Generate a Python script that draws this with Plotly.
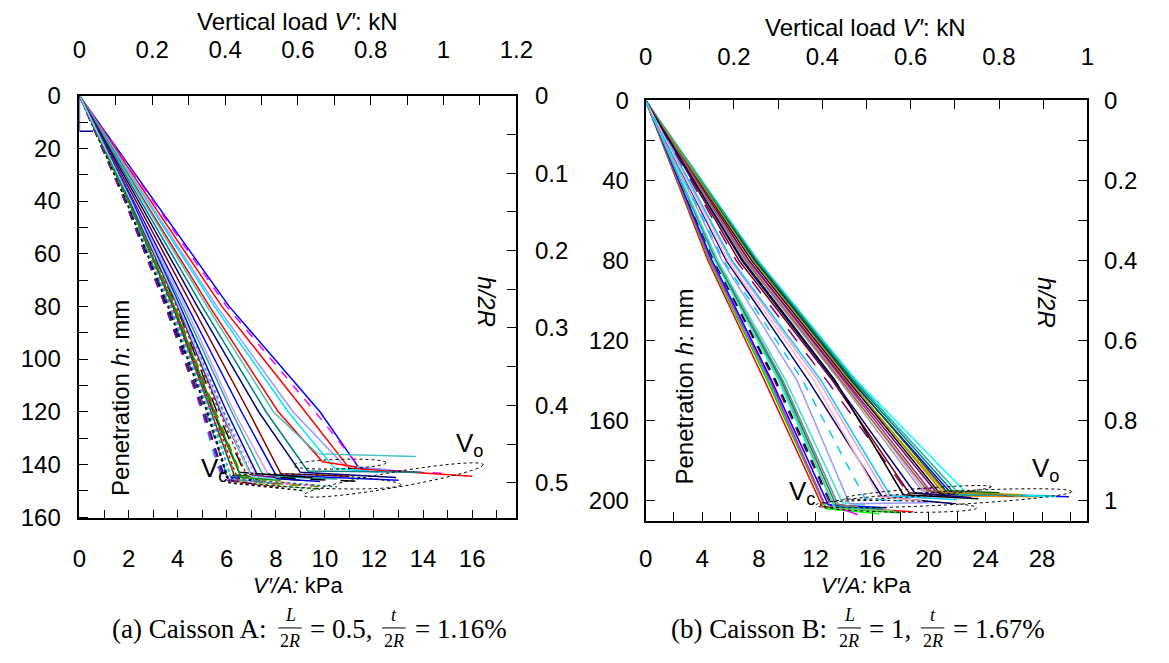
import plotly.graph_objects as go
import math

W, H = 1169, 663

# ---------------- Panel A data (kPa at given penetration mm) ----------------
A_h_levels = [0, 40, 80, 120]
A_x40 = [3.05, 3.0, 2.9, 2.8, 2.75, 2.65, 2.6, 2.5, 2.4, 2.3, 2.2, 2.15, 2.1,
         1.85, 1.9, 1.95, 2.0, 2.0, 2.05, 2.1, 1.95, 1.9, 2.0, 2.1, 1.95, 2.1, 2.15,
         1.85, 2.15, 1.85, 2.0, 1.95, 2.05, 2.0, 2.1, 1.9, 1.85, 2.0, 2.1]
A_x80 = [6.1, 6.0, 5.8, 5.6, 5.5, 5.3, 5.2, 5.0, 4.8, 4.6, 4.4, 4.3, 4.2,
         3.5, 3.6, 3.7, 3.8, 3.85, 3.9, 3.95, 3.75, 3.65, 3.85, 3.95, 3.65, 4.0, 4.1,
         3.55, 4.1, 3.5, 3.9, 3.7, 4.0, 3.8, 4.05, 3.6, 3.5, 3.85, 4.05]
A_x120 = [9.8, 9.6, 9.2, 8.7, 8.5, 8.1, 7.9, 7.6, 7.3, 6.9, 6.6, 6.3, 6.2,
          5.0, 5.1, 5.2, 5.35, 5.45, 5.5, 5.6, 5.35, 5.25, 5.45, 5.7, 5.15, 5.8, 5.9,
          5.05, 6.0, 5.0, 5.55, 5.3, 5.75, 5.45, 5.85, 5.2, 5.05, 5.5, 5.8]
A_xe = [11.4, 11.5, 11.0, 10.8, 10.4, 9.9, 9.7, 9.3, 9.0, 8.2, 8.0, 7.7, 7.5,
        5.6, 5.8, 6.0, 6.3, 6.5, 6.6, 6.8, 6.2, 6.1, 6.4, 6.9, 6.0, 7.0, 7.2,
        5.9, 7.3, 5.8, 6.7, 6.2, 7.0, 6.5, 7.1, 6.1, 5.9, 6.6, 7.0]
A_he = [141.5, 142, 141.5, 140.5, 141.5, 139, 136, 142.5, 143, 143.5, 144, 144, 144.5,
        141, 143, 145, 144, 143, 145, 144.5, 146, 146.5, 146, 146, 144, 145, 145,
        144.5, 145, 145, 146.5, 145.5, 144, 147, 146, 147, 146, 145, 144.5]
A_xt = [13.7, 15.1, 16.0, 12.6, 12.2, 11.3, 13.7, 13.9, 12.9, 11.0, 13.0, 9.5, 10.5,
        6.5, 7.0, 7.5, 9.0, 9.5, 8.5, 11.5, 9.5, 9.8, 8.8, 8.0, 7.5, 9.0, 8.5,
        7.0, 9.8, 6.8, 10.0, 7.8, 8.0, 8.3, 10.5, 9.2, 7.2, 8.2, 8.0]
A_ht = [143, 143.5, 144.5, 142, 143, 141, 137, 143, 145, 144.5, 146, 145, 145.5,
        145, 146, 146, 146, 145, 147, 146.5, 148, 149.5, 148, 147.5, 145.5, 148, 147,
        146, 146.5, 147, 148.5, 147, 145, 149, 148.5, 150, 147.5, 146, 145.5]
A_colors = ['#0000ff', '#ff00ff', '#ff0000', '#9999ff', '#00e5ff', '#ff0000', '#40c0c0', '#008080',
            '#000080', '#800000', '#0000ff', '#cc99ff', '#20a0a0',
            '#00ffff', '#800080', '#0000ff', '#006400', '#000000', '#ffa500', '#000000', '#ff00ff',
            '#009900', '#808080', '#a52a2a', '#008b8b', '#ffcc00', '#ff99cc', '#000080', '#0000cc',
            '#8a2be2', '#808000', '#00bfff', '#800080', '#ff0000', '#008080', '#000000', '#8b008b',
            '#00a000', '#87cefa']
A_dash = ['solid', 'dash', 'solid', 'solid', 'solid', 'solid', 'solid', 'solid',
          'solid', 'solid', 'solid', 'solid', 'solid',
          'dash', 'dash', 'dot', 'solid', 'solid', 'dash', 'longdash', 'dot',
          'dot', 'dash', 'dot', 'dash', 'dot', 'dot', 'dash', 'solid',
          'dash', 'dash', 'dot', 'solid', 'dot', 'dot', 'dot', 'dash',
          'solid', 'solid']
# early stray record near the origin (caisson A)
A_stray_x = [0.0, 0.0, 0.55]
A_stray_h = [0.0, 13.5, 13.5]

# ---------------- Panel B data ----------------
B_h_levels = [0, 40, 80, 140]
B_x40 = [2.2, 2.25, 2.3, 2.3, 2.35, 2.4, 2.4, 2.45, 2.45, 2.5, 2.5, 2.55,
         2.7, 2.85, 3.0, 3.05, 3.2, 3.3, 3.45,
         3.5, 3.6, 3.65, 3.75, 3.75, 3.85, 3.9, 3.9, 4.0, 3.95, 3.65, 3.55, 3.8, 3.4, 2.9, 2.75]
B_x80 = [4.4, 4.5, 4.6, 4.6, 4.7, 4.8, 4.85, 4.9, 4.95, 5.0, 5.05, 5.1,
         5.4, 5.7, 6.0, 6.1, 6.4, 6.6, 6.9,
         7.0, 7.2, 7.3, 7.5, 7.5, 7.7, 7.8, 7.8, 7.95, 7.9, 7.3, 7.1, 7.6, 6.8, 5.8, 5.5]
B_x140 = [8.4, 8.6, 8.7, 8.8, 8.9, 9.1, 9.2, 9.4, 9.5, 9.6, 9.7, 9.9,
          10.7, 11.5, 12.2, 12.4, 12.8, 13.2, 13.4,
          13.7, 13.9, 14.0, 14.2, 14.3, 14.5, 14.7, 14.6, 14.9, 14.8, 14.1, 13.8, 14.4, 13.3, 11.9, 11.1]
B_xe = [12.5, 12.7, 12.8, 12.6, 12.9, 13.0, 13.2, 13.3, 13.4, 13.5, 13.6, 13.9,
        14.4, 16.7, 17.0, 17.3, 18.3, 18.6, 18.2,
        19.5, 19.8, 20.2, 21.4, 20.8, 21.6, 21.9, 21.2, 22.7, 22.2, 20.5, 19.9, 21.0, 19.0, 16.5, 15.5]
B_he = [203, 203.5, 204, 201, 202, 201, 202.5, 203, 204, 203, 202, 201,
        201.5, 198, 197, 197.5, 194, 196, 197,
        195, 196, 196, 197.5, 196.5, 196.5, 197, 195, 196.5, 197, 195.5, 195, 196, 196, 198, 199]
B_xt = [18.9, 18.0, 16.5, 15.0, 17.0, 14.5, 15.0, 16.0, 17.5, 16.8, 15.0, 15.5,
        20.0, 21.8, 20.5, 22.0, 20.2, 22.0, 23.5,
        22.5, 23.0, 24.5, 28.0, 26.0, 29.9, 28.5, 25.0, 29.0, 27.0, 25.5, 24.0, 26.5, 23.0, 19.5, 18.0]
B_ht = [205.5, 206, 206.5, 207, 203.5, 203, 204, 204.5, 205, 204, 203, 202,
        201, 201.5, 199, 199.5, 194, 198, 199,
        197, 198, 197.5, 198, 197.5, 198, 197.5, 196, 198, 197.5, 197, 196.5, 197, 198.5, 200, 200]
B_colors = ['#ff0000', '#00cc00', '#00ff00', '#ff00ff', '#0000ff', '#800080', '#000000', '#00ffff',
            '#66cc66', '#008080', '#808080', '#40e0d0',
            '#9999ff', '#000080', '#ff99cc', '#00ccff', '#800080', '#800000', '#000000',
            '#a0a0a0', '#cc99ff', '#993366', '#ff8000', '#000000', '#0000ff', '#008080', '#006400',
            '#00ffff', '#20b2aa', '#800080', '#996633', '#999900', '#000080', '#ffb6c1', '#00ccff']
B_dash = ['solid', 'solid', 'solid', 'solid', 'solid', 'dash', 'dash', 'solid',
          'solid', 'solid', 'solid', 'solid',
          'solid', 'solid', 'solid', 'solid', 'longdash', 'solid', 'solid',
          'solid', 'solid', 'solid', 'solid', 'solid', 'solid', 'solid', 'solid',
          'solid', 'solid', 'solid', 'solid', 'solid', 'solid', 'solid', 'dash']

# ---------------- geometry (pixels) ----------------
A_box = dict(l=74, r=520, t=85, b=525)
B_box = dict(l=652, r=1103, t=90, b=528)
A_xrange, A_krange, A_hrange, A_nrange = [0, 17.8], [0, 1.2], [160.5, 0], [0.546, 0]
B_xrange, B_krange, B_hrange, B_nrange = [0, 31.2], [0, 1.0], [210.3, 0], [1.0515, 0]

def px(x):
    return x / W

def py(y):
    return 1 - y / H

FONT = 'Liberation Sans, Arial, sans-serif'
SERIF = 'Liberation Serif, Times New Roman, serif'
TFS = 24

fig = go.Figure()

def add_lines(xa, ya, levels, x1, x2, x3, xe, he, xt, ht, colors, dashes):
    for i in range(len(xe)):
        xs = [0, x1[i], x2[i], x3[i], xe[i], xt[i]]
        ys = [levels[0], levels[1], levels[2], levels[3], he[i], ht[i]]
        fig.add_trace(go.Scatter(x=xs, y=ys, xaxis=xa, yaxis=ya, mode='lines',
                                 line=dict(color=colors[i], width=1.5, dash=dashes[i]),
                                 showlegend=False, hoverinfo='skip'))

add_lines('x', 'y', A_h_levels, A_x40, A_x80, A_x120, A_xe, A_he, A_xt, A_ht, A_colors, A_dash)
fig.add_trace(go.Scatter(x=A_stray_x, y=A_stray_h, xaxis='x', yaxis='y', mode='lines',
                         line=dict(color='#000080', width=1.3), showlegend=False, hoverinfo='skip'))
add_lines('x3', 'y3', B_h_levels, B_x40, B_x80, B_x140, B_xe, B_he, B_xt, B_ht, B_colors, B_dash)

# invisible anchors so the secondary axes are drawn
for xa, ya, xr, yr in [('x2', 'y2', A_krange, A_nrange), ('x4', 'y4', B_krange, B_nrange)]:
    fig.add_trace(go.Scatter(x=[xr[0]], y=[yr[1]], xaxis=xa, yaxis=ya, mode='markers',
                             marker=dict(opacity=0, size=1), showlegend=False, hoverinfo='skip'))

def axis(rng, dtick, minor, **kw):
    d = dict(range=rng, dtick=dtick, tick0=0, showline=True, linecolor='black', linewidth=1.8,
             ticks='inside', ticklen=9, tickwidth=1.3, tickcolor='black',
             showgrid=False, zeroline=False, fixedrange=True,
             tickfont=dict(family=FONT, size=TFS, color='black'),
             minor=dict(dtick=minor, tick0=0, ticks='inside', ticklen=9, tickwidth=1.3,
                        tickcolor='black', showgrid=False))
    d.update(kw)
    return d

fig.update_layout(
    width=W, height=H, margin=dict(l=0, r=0, t=0, b=0),
    paper_bgcolor='white', plot_bgcolor='white', showlegend=False,
    xaxis=axis(A_xrange, 2, 1, domain=[px(A_box['l']), px(A_box['r'])], anchor='y', side='bottom',
               ticklabelstandoff=18),
    xaxis2=axis(A_krange, 0.2, 0.1, overlaying='x', anchor='y', side='top', ticklabelstandoff=26),
    yaxis=axis(A_hrange, 20, 10, domain=[py(A_box['b']), py(A_box['t'])], anchor='x', side='left',
               ticklabelstandoff=12),
    yaxis2=axis(A_nrange, 0.1, 0.05, overlaying='y', anchor='x', side='right', ticklabelstandoff=12),
    xaxis3=axis(B_xrange, 4, 2, domain=[px(B_box['l']), px(B_box['r'])], anchor='y3', side='bottom',
                ticklabelstandoff=15),
    xaxis4=axis(B_krange, 0.2, 0.1, overlaying='x3', anchor='y3', side='top', ticklabelstandoff=24),
    yaxis3=axis(B_hrange, 40, 20, domain=[py(B_box['b']), py(B_box['t'])], anchor='x3', side='left',
                ticklabelstandoff=10),
    yaxis4=axis(B_nrange, 0.2, 0.1, overlaying='y3', anchor='x3', side='right', ticklabelstandoff=10),
)

anns = []

def ann(text, x, y, size=TFS, angle=0, family=FONT, xanchor='center', yanchor='middle'):
    anns.append(dict(text=text, x=px(x), y=py(y), xref='paper', yref='paper', showarrow=False,
                     font=dict(family=family, size=size, color='black'), textangle=angle,
                     xanchor=xanchor, yanchor=yanchor))

# axis titles
ann('Vertical load <i>V′</i>: kN', 297, 8)
ann('Vertical load <i>V′</i>: kN', 877, 14)
ann('<i>V′/A:</i> kPa', 297, 595, size=22)
ann('<i>V′/A:</i> kPa', 877, 595, size=22)
ann('Penetration <i>h</i>: mm', 116, 400, angle=-90)
ann('Penetration <i>h</i>: mm', 692, 388, angle=-90)
ann('<i>h/2R</i>', 490, 300, angle=90)
ann('<i>h/2R</i>', 1062, 300, angle=90)
ann('V<sub>c</sub>', 211, 474, size=26)
ann('V<sub>o</sub>', 472, 448, size=26)
ann('V<sub>c</sub>', 812, 498, size=26)
ann('V<sub>o</sub>', 1060, 474, size=26)

# captions
CS = 27
shapes = []

def caption(parts, y=640):
    for kind, txt, x in parts:
        if kind == 't':
            ann(txt, x, y, size=CS, family=SERIF, xanchor='left')
        else:
            ann(txt[0], x, y - 14, size=18, family=SERIF)
            ann(txt[1], x, y + 13, size=18, family=SERIF)
            shapes.append(dict(type='line', xref='paper', yref='paper', x0=px(x - 12), x1=px(x + 12),
                               y0=py(y - 1), y1=py(y - 1), line=dict(color='black', width=1)))

caption([('t', '(a) Caisson A:', 105), ('f', ('<i>L</i>', '2<i>R</i>'), 289),
         ('t', '= 0.5,', 307), ('f', ('<i>t</i>', '2<i>R</i>'), 395), ('t', '= 1.16%', 414)])
caption([('t', '(b) Caisson B:', 676), ('f', ('<i>L</i>', '2<i>R</i>'), 860),
         ('t', '= 1,', 878), ('f', ('<i>t</i>', '2<i>R</i>'), 945), ('t', '= 1.67%', 964)])

# dashed ellipses (pixel definitions: end points of major axis, semi-minor)
ellipses = [((292, 470), (387, 467), 5), ((303, 501), (486, 469), 8), ((225, 483), (402, 490), 7),
            ((855, 504), (1005, 492), 4), ((830, 511), (1087, 497), 7), ((826, 511), (990, 514), 6)]
for (x1, y1), (x2, y2), b in ellipses:
    cx, cy = (x1 + x2) / 2, (y1 + y2) / 2
    a = math.hypot(x2 - x1, y2 - y1) / 2
    th = math.atan2(y2 - y1, x2 - x1)
    pts = []
    for k in range(73):
        p = 2 * math.pi * k / 72
        ex = cx + a * math.cos(p) * math.cos(th) - b * math.sin(p) * math.sin(th)
        ey = cy + a * math.cos(p) * math.sin(th) + b * math.sin(p) * math.cos(th)
        pts.append((px(ex), py(ey)))
    path = 'M ' + ' L '.join(f'{u:.5f},{v:.5f}' for u, v in pts) + ' Z'
    shapes.append(dict(type='path', path=path, xref='paper', yref='paper',
                       line=dict(color='black', width=1, dash='dot')))

fig.update_layout(annotations=anns, shapes=shapes)
fig.write_html('out.html')
